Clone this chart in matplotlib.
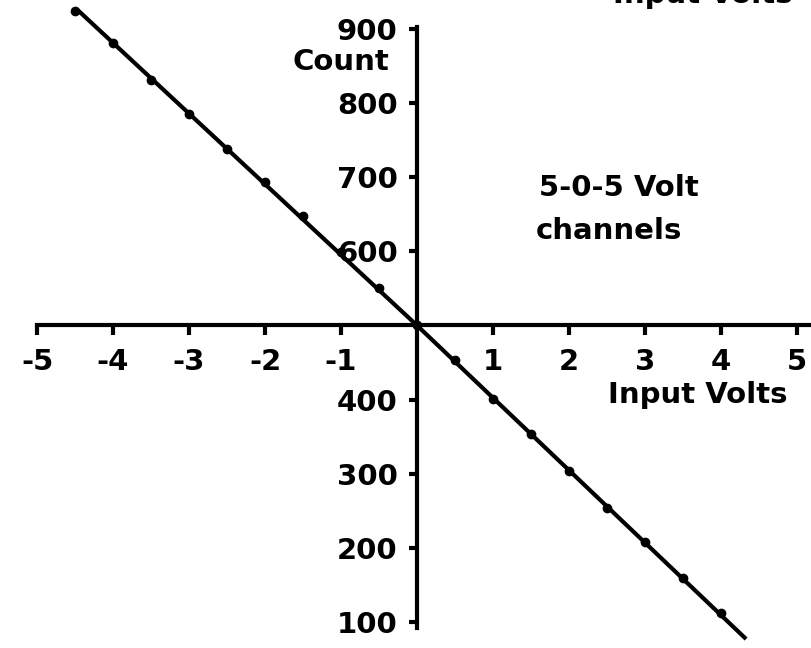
import matplotlib
matplotlib.use("Agg")
import matplotlib.pyplot as plt

# Data
volts = [-4.5, -4.0, -3.5, -3.0, -2.5, -2.0, -1.5, -1.0, -0.5, 0.0,
         0.5, 1.0, 1.5, 2.0, 2.5, 3.0, 3.5, 4.0]
counts = [924, 881, 831, 785, 738, 693, 647, 599, 550, 500,
          453, 401, 353, 304, 254, 208, 159, 112]
line_ends_v = [-4.46, 4.33]
line_ends_c = [925, 77]

x_ticks = [-5, -4, -3, -2, -1, 1, 2, 3, 4, 5]
x_labels = ["-5", "-4", "-3", "-2", "-1", "1", "2", "3", "4", "5"]
y_ticks = [100, 200, 300, 400, 600, 700, 800, 900]
y_labels = ["100", "200", "300", "400", "600", "700", "800", "900"]

plt.rcParams['font.family'] = ['DejaVu Sans']
FS = 21

fig = plt.figure(figsize=(8.12, 6.48), dpi=100)
ax = fig.add_axes([0, 0, 1, 1])
ax.set_xlim(-5.487, 5.197)
ax.set_ylim(64.9, 939)

# fitted straight line and data points
ax.plot([line_ends_v[0], 0, line_ends_v[1]], [line_ends_c[0], 500, line_ends_c[1]],
        color='black', lw=3.0, solid_capstyle='butt', zorder=3)
ax.plot(volts, counts, 'o', color='black', ms=6, zorder=4)

for s in ['top', 'right']:
    ax.spines[s].set_visible(False)
ax.spines['left'].set_position(('data', 0))
ax.spines['bottom'].set_position(('data', 500))
ax.spines['left'].set_bounds(92, 902)
ax.spines['bottom'].set_bounds(-5, 5.2)
for s in ['left', 'bottom']:
    ax.spines[s].set_linewidth(3)

ax.set_xticks(x_ticks)
ax.set_xticklabels(x_labels, fontsize=FS, fontweight='bold')
ax.set_yticks(y_ticks)
ax.set_yticklabels(y_labels, fontsize=FS, fontweight='bold')
ax.tick_params(axis='x', direction='out', length=7, width=3, pad=9)
ax.tick_params(axis='y', direction='out', length=6, width=3, pad=8)

ax.text(-1.0, 856, "Count", fontsize=FS, fontweight='bold', ha='center', va='center')
ax.text(3.69, 406, "Input Volts", fontsize=FS, fontweight='bold', ha='center', va='center')
ax.text(2.65, 685, "5-0-5 Volt", fontsize=FS, fontweight='bold', ha='center', va='center')
ax.text(2.53, 627, "channels", fontsize=FS, fontweight='bold', ha='center', va='center')
# partially cropped text at the very top of the scan
fig.text(0.866, 1 - 3 / 648, "Input Volts", fontsize=FS, fontweight='bold',
         ha='center', va='baseline')

fig.savefig("out.png", dpi=100)
